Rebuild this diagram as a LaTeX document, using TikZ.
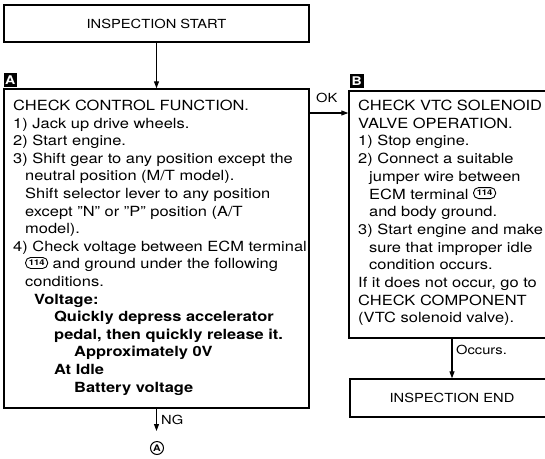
\documentclass[tikz,border=0pt]{standalone}
\usepackage{fontspec}
\setmainfont{TeX Gyre Heros}[FakeStretch=1.175]
\usetikzlibrary{arrows.meta}
\newcommand\term[1]{\tikz[baseline=0pt]\node[draw,line width=0.9pt,rounded corners=5pt,minimum width=22pt,minimum height=11pt,inner sep=0pt,anchor=south,font=\fontsize{8}{8}\selectfont\bfseries] (t) at (0,0) {#1};}
\newcommand\aline[3]{\node[txt] (a#1) at ({#2},{110.5+(#1-1)*17.6}) {#3};}
\newcommand\bline[3]{\node[txt] (b#1) at ({#2},{110.5+(#1-1)*17.7}) {#3};}
\begin{document}
\begin{tikzpicture}[x=1pt,y=-1pt,
  box/.style={draw,line width=1.4pt,inner sep=0pt},
  txt/.style={inner sep=0pt,anchor=base west,font=\fontsize{14}{16}\selectfont},
  head/.style={font=\fontsize{12.5}{15}\selectfont},
  arr/.style={line width=1.1pt,-{Triangle[length=7pt,width=5pt]}},
  tagletter/.style={text=white,inner sep=0pt,font=\fontsize{12}{12}\selectfont\bfseries}]
\useasboundingbox (0,0) rectangle (545,458);
\clip (0,0) rectangle (545,458);
\fill[white] (0,0) rectangle (545,458);
% boxes
\node[box,head,minimum width=305pt,minimum height=37pt] (start) at (156.5,23.5) {INSPECTION START};
\node[box,minimum width=305pt,minimum height=319pt] (boxA) at (156.5,248.5) {};
\fill[black] (3.5,73) rectangle (17,86.5);
\node[tagletter] (tagA) at (10.25,79.75) {A};
\node[box,minimum width=207pt,minimum height=247pt] (boxB) at (452.5,214.5) {};
\fill[black] (350,74) rectangle (363.5,87.5);
\node[tagletter] (tagB) at (356.75,80.75) {B};
\node[box,head,minimum width=204pt,minimum height=38pt] (endb) at (452,398) {INSPECTION END};
% connectors
\draw[arr] (start.south) -- (boxA.north);
\coordinate (okrow) at (330,113);
\draw[arr] (okrow -| boxA.east) -- (okrow -| boxB.west);
\node[head,anchor=base west,inner sep=0pt] (ok) at (316,102) {OK};
\draw[arr] (boxB.south -| endb.north) -- (endb.north);
\node[head,anchor=west,inner sep=0pt] (occ) at (456,350) {Occurs.};
\coordinate (ngend) at (156.5,431);
\draw[arr] (boxA.south) -- (ngend);
\node[head,anchor=west,inner sep=0pt] (ng) at (161,420) {NG};
\node[draw,circle,line width=1pt,inner sep=0pt,minimum size=13pt,font=\fontsize{9}{9}\selectfont\bfseries] (circA) at (157,448) {A};
% text of A
\aline{1}{13}{CHECK CONTROL FUNCTION.}
\aline{2}{13}{1) Jack up drive wheels.}
\aline{3}{13}{2) Start engine.}
\aline{4}{13}{3) Shift gear to any position except the}
\aline{5}{25}{neutral position (M/T model).}
\aline{6}{25}{Shift selector lever to any position}
\aline{7}{25}{except ''N'' or ''P'' position (A/T}
\aline{8}{25}{model).}
\aline{9}{13}{4) Check voltage between ECM terminal}
\aline{10}{25}{\term{114} and ground under the following}
\aline{11}{25}{conditions.}
\aline{12}{34}{\bfseries Voltage:}
\aline{13}{54}{\bfseries Quickly depress accelerator}
\aline{14}{54}{\bfseries pedal, then quickly release it.}
\aline{15}{74}{\bfseries Approximately 0V}
\aline{16}{54}{\bfseries At Idle}
\aline{17}{74}{\bfseries Battery voltage}
% text of B
\bline{1}{358}{CHECK VTC SOLENOID}
\bline{2}{358}{VALVE OPERATION.}
\bline{3}{358}{1) Stop engine.}
\bline{4}{358}{2) Connect a suitable}
\bline{5}{369}{jumper wire between}
\bline{6}{369}{ECM terminal \term{114}}
\bline{7}{369}{and body ground.}
\bline{8}{358}{3) Start engine and make}
\bline{9}{369}{sure that improper idle}
\bline{10}{369}{condition occurs.}
\bline{11}{358}{If it does not occur, go to}
\bline{12}{358}{CHECK COMPONENT}
\bline{13}{358}{(VTC solenoid valve).}
\end{tikzpicture}
\end{document}
